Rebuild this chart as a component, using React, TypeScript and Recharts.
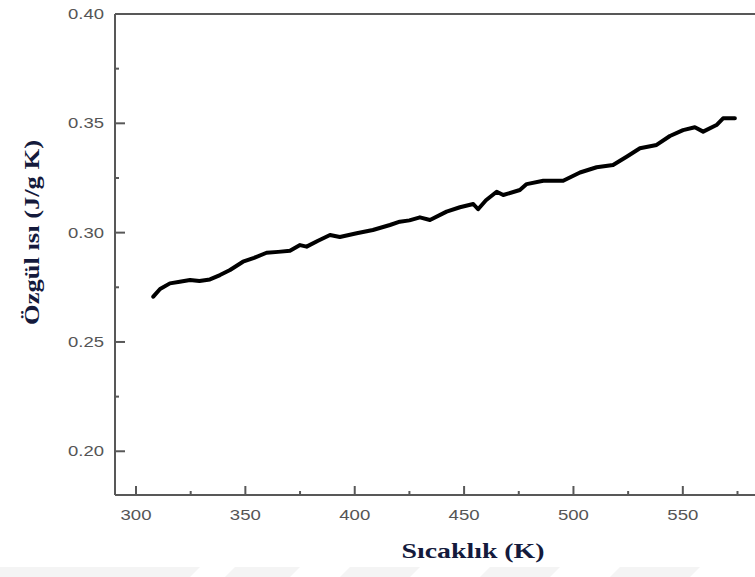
import { LineChart, Line, XAxis, YAxis, ReferenceLine } from 'recharts';

// Temperature (K) and specific heat (J/g K) readings
const temperatures = [
  307.9, 311.0, 315.5, 320.0, 324.7, 329.0, 333.8, 338.4, 343.0, 348.9, 354.0, 359.7, 365.0,
  370.4, 375.0, 378.0, 383.0, 388.7, 393.2, 400.9, 408.3, 416.1, 420.6, 425.0, 429.8, 434.4,
  442.0, 448.1, 454.2, 456.4, 460.0, 464.9, 467.9, 475.5, 478.6, 486.2, 495.3, 503.0, 510.6,
  518.1, 524.3, 530.4, 538.0, 544.1, 550.1, 555.5, 559.3, 565.4, 568.4, 573.8,
];
const specificHeat = [
  0.2707, 0.2742, 0.2768, 0.2775, 0.2783, 0.2779, 0.2786, 0.2806, 0.2829, 0.2867, 0.2885, 0.2908,
  0.2912, 0.2917, 0.2943, 0.2936, 0.2962, 0.2989, 0.298, 0.2997, 0.3012, 0.3035, 0.305, 0.3056,
  0.307, 0.3058, 0.3096, 0.3116, 0.3131, 0.3107, 0.3148, 0.3187, 0.3172, 0.3195, 0.3222, 0.3237,
  0.3237, 0.3275, 0.3299, 0.3309, 0.3347, 0.3386, 0.3401, 0.3442, 0.3469, 0.3482, 0.3462, 0.3492,
  0.3523, 0.3523,
];

const xTicks = [300, 325, 350, 375, 400, 425, 450, 475, 500, 525, 550, 575];
const yTicks = [0.2, 0.225, 0.25, 0.275, 0.3, 0.325, 0.35, 0.375, 0.4];

const xTitle = 'Sıcaklık (K)';
const yTitle = 'Özgül ısı (J/g K)';

const data = temperatures.map((t, i) => ({ t, cp: specificHeat[i] }));

const AXIS = '#585858';
const TITLE = '#141a3c';
const TICK_FONT = '"Liberation Sans", Arial, sans-serif';
const TITLE_FONT = '"Liberation Serif", "Times New Roman", serif';
const MARGIN = 10;

function XTick(props: any) {
  const { x, y, payload } = props;
  const major = payload.value % 50 === 0;
  const axisY = y - MARGIN;
  return (
    <g>
      <line x1={x} x2={x} y1={axisY} y2={axisY - (major ? 9 : 4)} stroke={AXIS} strokeWidth={2} />
      {major && (
        <text
          x={x}
          y={axisY + 25}
          textAnchor="middle"
          fontFamily={TICK_FONT}
          fontSize={15}
          fill="#555"
          textLength={31}
          lengthAdjust="spacingAndGlyphs"
        >
          {payload.value}
        </text>
      )}
    </g>
  );
}

function YTick(props: any) {
  const { x, y, payload } = props;
  const major = Math.round(payload.value * 1000) % 50 === 0;
  const axisX = x + MARGIN;
  return (
    <g>
      <line x1={axisX} x2={axisX + (major ? 10 : 4)} y1={y} y2={y} stroke={AXIS} strokeWidth={2} />
      {major && (
        <text
          x={axisX - 11}
          y={y + 5}
          textAnchor="end"
          fontFamily={TICK_FONT}
          fontSize={15}
          fill="#555"
          textLength={36}
          lengthAdjust="spacingAndGlyphs"
        >
          {payload.value.toFixed(2)}
        </text>
      )}
    </g>
  );
}

function XTitle(props: any) {
  const { viewBox } = props;
  const cx = viewBox.x + viewBox.width / 2 + 38;
  return (
    <text
      x={cx}
      y={viewBox.y + 63}
      textAnchor="middle"
      fontFamily={TITLE_FONT}
      fontWeight="bold"
      fontSize={22}
      fill={TITLE}
      textLength={143}
      lengthAdjust="spacingAndGlyphs"
    >
      {xTitle}
    </text>
  );
}

function YTitle(props: any) {
  const { viewBox } = props;
  const cx = viewBox.x + 39;
  const cy = viewBox.y + viewBox.height / 2 - 22;
  return (
    <text
      x={cx}
      y={cy}
      transform={`rotate(-90 ${cx} ${cy})`}
      textAnchor="middle"
      fontFamily={TITLE_FONT}
      fontWeight="bold"
      fontSize={22}
      fill={TITLE}
      textLength={185}
      lengthAdjust="spacingAndGlyphs"
    >
      {yTitle}
    </text>
  );
}

export default function App() {
  return (
    <div style={{ position: 'absolute', left: 0, top: 0, width: 755, height: 577, background: '#fff' }}>
      <svg width={755} height={577} style={{ position: 'absolute', left: 0, top: 0 }}>
        <polygon points="0,567 200,567 190,577 0,577" fill="#f4f4f4" />
        <polygon points="235,567 300,567 290,577 225,577" fill="#f4f4f4" />
        <polygon points="350,567 420,567 410,577 340,577" fill="#f4f4f4" />
        <polygon points="490,567 560,567 550,577 480,577" fill="#f4f4f4" />
        <polygon points="620,567 700,567 690,577 610,577" fill="#f4f4f4" />
      </svg>
      <div style={{ position: 'absolute', left: 0, top: 0 }}>
        <LineChart width={755} height={577} data={data} margin={{ top: 14, right: 0, bottom: 0, left: 0 }}>
          <XAxis
            dataKey="t"
            type="number"
            domain={[290.4, 583]}
            allowDataOverflow
            ticks={xTicks}
            interval={0}
            height={82}
            tickSize={0}
            tickMargin={MARGIN}
            tickLine={false}
            tick={<XTick />}
            axisLine={{ stroke: AXIS, strokeWidth: 2 }}
            label={{ content: <XTitle /> }}
          />
          <YAxis
            type="number"
            domain={[0.18, 0.4]}
            allowDataOverflow
            ticks={yTicks}
            interval={0}
            width={115}
            tickSize={0}
            tickMargin={MARGIN}
            tickLine={false}
            tick={<YTick />}
            axisLine={{ stroke: AXIS, strokeWidth: 2 }}
            label={{ content: <YTitle /> }}
          />
          <ReferenceLine y={0.4} stroke={AXIS} strokeWidth={2} ifOverflow="visible" />
          <Line
            type="linear"
            dataKey="cp"
            stroke="#000"
            strokeWidth={4}
            strokeLinejoin="round"
            strokeLinecap="round"
            dot={false}
            isAnimationActive={false}
          />
        </LineChart>
      </div>
    </div>
  );
}
